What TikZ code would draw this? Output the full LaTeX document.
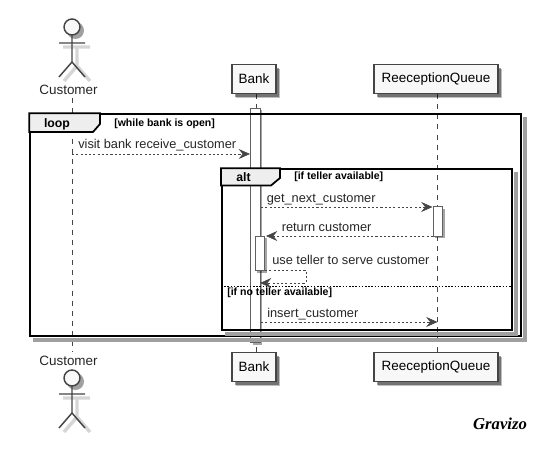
\documentclass[tikz,border=0pt]{standalone}
\usepackage{fontspec}
\usepackage{xcolor}
\setmainfont{Liberation Sans}
\newfontfamily\logofont{Liberation Serif}
\usetikzlibrary{positioning,arrows.meta,shadows,calc}
\definecolor{boxfill}{HTML}{F8F8F8}
\definecolor{tabfill}{HTML}{EEEEEE}
\definecolor{linegray}{HTML}{454545}
\definecolor{softgray}{HTML}{A0A0A0}
\definecolor{palegray}{HTML}{D6D6D6}

\begin{document}
\begin{tikzpicture}[
  x=0.75pt, y=-0.75pt,
  softshadow/.style={
    drop shadow={shadow xshift=3.3pt, shadow yshift=-3.3pt, fill=black, opacity=0.25},
    drop shadow={shadow xshift=2.4pt, shadow yshift=-2.4pt, fill=black, opacity=0.4}},
  block/.style={rectangle, draw=linegray, line width=1.2pt, fill=boxfill, minimum height=22pt, inner sep=0pt, font=\fontsize{10.1}{12}\selectfont, softshadow},
  bar/.style={rectangle, draw=linegray!85, line width=0.9pt, fill=white, minimum width=7.2pt, inner sep=0pt, drop shadow={shadow xshift=1.6pt, shadow yshift=-1.6pt, fill=black, opacity=0.35}},
  frame/.style={rectangle, draw=black, line width=1.5pt, inner sep=0pt},
  frameshade/.style={draw=softgray, line width=3pt},
  tab/.style={draw=black, line width=1.3pt, fill=tabfill},
  lifeline/.style={draw=linegray, line width=0.6pt, dash pattern=on 3.8pt off 3.8pt},
  msg/.style={draw=linegray, line width=0.5pt, dash pattern=on 1.6pt off 1.6pt, -{Stealth[length=8.5pt, width=7.5pt, inset=3pt, fill=linegray]}},
  lbl/.style={font=\fontsize{9.6}{11}\selectfont, inner sep=0pt, text=black!85, anchor=west, text height=7pt, text depth=2pt},
  cond/.style={font=\bfseries\fontsize{7.9}{9}\selectfont, inner sep=0pt, anchor=west, text height=5.6pt, text depth=1.6pt},
  kw/.style={font=\bfseries\fontsize{9.2}{12}\selectfont, inner sep=0pt},
  limbs/.style={draw=linegray, line width=1.1pt},
  limbshade/.style={draw=palegray, line width=2.6pt},
  actor/.pic={
    \draw[limbshade] (5,20) -- (5,39) (-9,20) -- (18,20) (5,39) -- (-8,54) (5,39) -- (18,54);
    \fill[softgray] (3.5,3.5) circle (8.5);
    \draw[limbs] (0,8) -- (0,35) (-13,16) -- (13,16) (0,35) -- (-13,50) (0,35) -- (13,50);
    \filldraw[limbs, fill=boxfill] (0,0) circle (8);
  }
  ]
  \useasboundingbox (0,0) rectangle (543,473);

  % lifelines
  \coordinate (custTop) at (72,98);
  \coordinate (custBot) at (72,352);
  \coordinate (bankTop) at (256,94);
  \coordinate (bankBot) at (256,352);
  \coordinate (queueTop) at (437.5,94);
  \coordinate (queueBot) at (437.5,352);
  \draw[lifeline] (custTop) -- (custBot);
  \draw[lifeline] (bankTop) -- (bankBot);
  \draw[lifeline] (queueTop) -- (queueBot);

  % participants
  \pic at (72,27) {actor};
  \node[lbl, anchor=center, font=\fontsize{10.1}{12}\selectfont] (custHead) at (68.5,91) {Customer};
  \pic at (72,378) {actor};
  \node[lbl, anchor=center, font=\fontsize{10.1}{12}\selectfont] (custFoot) at (68.5,362) {Customer};
  \node[block, minimum width=33pt] (bankHead) at (254,79) {Bank};
  \node[block, minimum width=33pt] (bankFoot) at (254,367) {Bank};
  \node[block, minimum width=93pt] (queueHead) at (436,79) {ReeceptionQueue};
  \node[block, minimum width=93pt] (queueFoot) at (436,367) {ReeceptionQueue};

  % activations
  \node[bar, minimum height=176pt] (bankBar) at (255.5,225.5) {};
  \node[bar, minimum height=22pt] (queueBar) at (438,221.5) {};
  \node[bar, minimum height=26pt] (tellerBar) at (260,253.5) {};

  % fragments
  \node[frame, minimum width=368pt, minimum height=166pt] (loopFrame) at (275.5,225) {};
  \draw[frameshade] ($(loopFrame.north east)+(3,4)$) |- ($(loopFrame.south west)+(4,3)$);
  \draw[tab] (loopFrame.north west) -| (100,124) -- (93,132) -| cycle;
  \node[kw] (loopKw) at (57,124) {loop};
  \node[cond] (loopCond) at (114,123.5) {[while bank is open]};
  \node[frame, minimum width=217.5pt, minimum height=120.5pt] (altFrame) at (367,249.5) {};
  \draw[frameshade] ($(altFrame.north east)+(3,4)$) |- ($(altFrame.south west)+(4,3)$);
  \draw[tab] (altFrame.north west) -| (280,178) -- (271,185.5) -| cycle;
  \node[kw] (altKw) at (243.5,177) {alt};
  \node[cond] (altCond) at (294,177) {[if teller available]};
  \draw[draw=black, line width=0.5pt, dash pattern=on 1.2pt off 1.2pt] (altFrame.west |- 0,286.5) coordinate (splitL) -- (altFrame.east |- 0,286.5) coordinate (splitR);
  \node[cond] (altElse) at (227,293) {[if no teller available]};

  % messages
  \coordinate (visitA) at (72,154);
  \coordinate (visitB) at (250,154);
  \coordinate (nextA) at (261,207);
  \coordinate (nextB) at (432.5,207);
  \coordinate (backA) at (433,236);
  \coordinate (backB) at (266,236);
  \coordinate (serveA) at (265,270);
  \coordinate (serveB) at (306,270);
  \coordinate (serveC) at (306,283);
  \coordinate (serveD) at (260,283);
  \coordinate (insertA) at (261,322);
  \coordinate (insertB) at (437.5,322);
  \draw[msg] (visitA) -- (visitB);
  \draw[msg] (nextA) -- (nextB);
  \draw[msg] (backA) -- (backB);
  \draw[msg] (serveA) -- (serveB) -- (serveC) -- (serveD);
  \draw[msg] (insertA) -- (insertB);
  \node[lbl] (visitTxt) at (78,145) {visit bank receive\_customer};
  \node[lbl] (nextTxt) at (266.5,199) {get\_next\_customer};
  \node[lbl] (backTxt) at (281.5,228) {return customer};
  \node[lbl] (serveTxt) at (272,261) {use teller to serve customer};
  \node[lbl] (insertTxt) at (267,314) {insert\_customer};

  % logo
  \node[font=\logofont\bfseries\itshape\fontsize{12.5}{14}\selectfont, inner sep=0pt] (logo) at (500,424) {Gravizo};
\end{tikzpicture}
\end{document}
